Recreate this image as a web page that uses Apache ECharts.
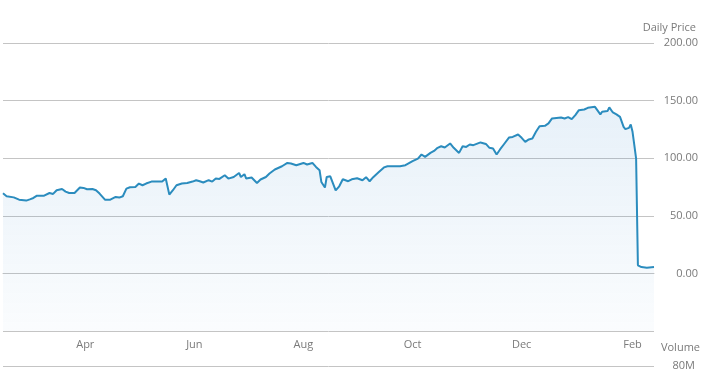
<!DOCTYPE html>
<html>
<head>
<meta charset="utf-8">
<script src="https://cdn.jsdelivr.net/npm/echarts@6/dist/echarts.min.js"></script>
<style>
html, body { margin: 0; padding: 0; background: #fff; }
#main { width: 722px; height: 377px; }
</style>
</head>
<body>
<div id="main"></div>
<script>
// trading dates
var dates = [
    '2013-02-14', '2013-02-16', '2013-02-20', '2013-02-23', '2013-02-24', '2013-02-27',
    '2013-03-01', '2013-03-03', '2013-03-05', '2013-03-09', '2013-03-10', '2013-03-12',
    '2013-03-14', '2013-03-16', '2013-03-19', '2013-03-21', '2013-03-23', '2013-03-24',
    '2013-03-26', '2013-03-29', '2013-03-31', '2013-04-02', '2013-04-05', '2013-04-06',
    '2013-04-07', '2013-04-09', '2013-04-12', '2013-04-15', '2013-04-18', '2013-04-20',
    '2013-04-22', '2013-04-24', '2013-04-26', '2013-04-29', '2013-05-01', '2013-05-03',
    '2013-05-05', '2013-05-08', '2013-05-11', '2013-05-14', '2013-05-16', '2013-05-18',
    '2013-05-20', '2013-05-22', '2013-05-25', '2013-05-28', '2013-05-31', '2013-06-02',
    '2013-06-04', '2013-06-06', '2013-06-09', '2013-06-11', '2013-06-13', '2013-06-15',
    '2013-06-18', '2013-06-20', '2013-06-23', '2013-06-26', '2013-06-27', '2013-06-29',
    '2013-06-30', '2013-07-03', '2013-07-04', '2013-07-06', '2013-07-08', '2013-07-11',
    '2013-07-13', '2013-07-16', '2013-07-20', '2013-07-23', '2013-07-25', '2013-07-28',
    '2013-08-01', '2013-08-03', '2013-08-06', '2013-08-08', '2013-08-10', '2013-08-11',
    '2013-08-13', '2013-08-14', '2013-08-16', '2013-08-19', '2013-08-21', '2013-08-23',
    '2013-08-26', '2013-08-28', '2013-08-31', '2013-09-03', '2013-09-05', '2013-09-07',
    '2013-09-09', '2013-09-12', '2013-09-15', '2013-09-17', '2013-09-18', '2013-09-24',
    '2013-09-27', '2013-10-01', '2013-10-04', '2013-10-06', '2013-10-08', '2013-10-11',
    '2013-10-13', '2013-10-15', '2013-10-17', '2013-10-19', '2013-10-22', '2013-10-24',
    '2013-10-27', '2013-10-28', '2013-10-29', '2013-10-31', '2013-11-02', '2013-11-04',
    '2013-11-08', '2013-11-11', '2013-11-13', '2013-11-15', '2013-11-17', '2013-11-19',
    '2013-11-21', '2013-11-24', '2013-11-26', '2013-11-29', '2013-12-01', '2013-12-03',
    '2013-12-05', '2013-12-07', '2013-12-09', '2013-12-11', '2013-12-14', '2013-12-16',
    '2013-12-18', '2013-12-19', '2013-12-23', '2013-12-25', '2013-12-27', '2013-12-29',
    '2013-12-31', '2014-01-02', '2014-01-05', '2014-01-07', '2014-01-08', '2014-01-11',
    '2014-01-12', '2014-01-14', '2014-01-15', '2014-01-18', '2014-01-19', '2014-01-21',
    '2014-01-23', '2014-01-25', '2014-01-27', '2014-01-28', '2014-01-30', '2014-01-31',
    '2014-02-01', '2014-02-02', '2014-02-03', '2014-02-04', '2014-02-06', '2014-02-09',
    '2014-02-13'
];

// daily closing price
var prices = [
    69.5, 67.0, 66.0, 64.0, 64.6, 63.2,
    64.3, 65.5, 67.5, 67.5, 68.4, 69.8,
    69.0, 72.2, 73.3, 71.0, 69.8, 68.1,
    69.8, 74.5, 74.2, 73.0, 73.3, 71.6,
    72.2, 69.3, 64.0, 64.0, 66.4, 65.8,
    67.0, 73.6, 74.8, 75.0, 78.0, 76.5,
    78.0, 79.7, 79.7, 79.7, 82.3, 68.4,
    72.2, 76.5, 78.0, 78.5, 79.7, 80.9,
    80.0, 78.9, 80.9, 79.7, 82.3, 82.0,
    85.2, 82.3, 83.7, 87.2, 83.7, 86.1,
    82.3, 83.2, 82.0, 78.5, 81.5, 83.7,
    86.7, 90.2, 93.0, 95.9, 95.4, 93.9,
    95.9, 94.5, 95.9, 92.4, 89.6, 79.4,
    74.5, 83.7, 84.3, 72.0, 75.6, 81.7,
    80.0, 81.7, 82.6, 80.9, 83.5, 80.0,
    83.5, 87.8, 92.0, 93.0, 93.9, 93.0,
    93.9, 97.4, 99.7, 103.2, 101.2, 104.6,
    106.3, 109.0, 110.4, 109.3, 112.8, 109.0,
    104.6, 105.0, 110.4, 109.8, 111.9, 111.3,
    113.7, 112.4, 109.0, 108.4, 103.2, 107.8,
    111.9, 118.0, 118.5, 120.6, 117.7, 114.2,
    116.3, 117.1, 122.9, 127.8, 128.1, 130.2,
    134.5, 135.0, 135.4, 134.5, 135.7, 133.9,
    137.4, 141.7, 142.3, 143.7, 142.6, 144.6,
    143.2, 138.0, 140.3, 140.9, 144.1, 139.7,
    138.0, 135.9, 127.2, 125.2, 126.3, 129.3,
    122.9, 111.3, 99.7, 7.0, 5.5, 5.0,
    5.5
];

// month labels shown on the x axis
var monthTicks = ['2013-04-01', '2013-06-01', '2013-08-01', '2013-10-01', '2013-12-01', '2014-02-01'];
var monthNames = ['Jan', 'Feb', 'Mar', 'Apr', 'May', 'Jun', 'Jul', 'Aug', 'Sep', 'Oct', 'Nov', 'Dec'];

var startDate = '2013-02-14';
var endDate = '2014-02-13';

function toTime(s) {
    var p = s.split('-');
    return new Date(+p[0], +p[1] - 1, +p[2]).getTime();
}

var seriesData = [];
for (var i = 0; i < dates.length; i++) {
    seriesData.push([toTime(dates[i]), prices[i]]);
}

var gridColor = '#c4c4c4';
var textColor = '#7a7a7a';
var font = '"Open Sans", "DejaVu Sans", sans-serif';

var myChart = echarts.init(document.getElementById('main'));
var option = {
    animation: false,
    textStyle: { fontFamily: font },
    title: [
        { text: 'Daily Price', right: 21, top: 17, textStyle: { fontSize: 11, fontWeight: 'normal', color: textColor, fontFamily: font } },
        { text: 'Volume', right: 17, top: 337, textStyle: { fontSize: 11, fontWeight: 'normal', color: textColor, fontFamily: font } }
    ],
    grid: [
        { left: 3, right: 68, top: 43, height: 288, outerBoundsMode: 'none' },
        { left: 3, right: 68, top: 366, height: 60, outerBoundsMode: 'none' }
    ],
    xAxis: [
        {
            // timestamps on a plain value axis so the month ticks can be placed exactly
            type: 'value',
            gridIndex: 0,
            min: toTime(startDate),
            max: toTime(endDate),
            axisLine: { show: true, lineStyle: { color: gridColor } },
            axisTick: { show: false },
            splitLine: { show: false },
            axisLabel: {
                color: textColor,
                fontSize: 11,
                margin: 8,
                customValues: monthTicks.map(toTime),
                formatter: function (v) {
                    return monthNames[new Date(v).getMonth()];
                }
            }
        },
        {
            type: 'value',
            gridIndex: 1,
            position: 'top',
            offset: 9,
            min: toTime(startDate),
            max: toTime(endDate),
            axisLine: { show: true, lineStyle: { color: gridColor } },
            axisTick: { show: false },
            axisLabel: { show: false },
            splitLine: { show: false }
        }
    ],
    yAxis: [
        {
            type: 'value',
            gridIndex: 0,
            position: 'right',
            min: -50,
            max: 200,
            interval: 50,
            axisLine: { show: false },
            axisTick: { show: false },
            splitLine: { lineStyle: { color: gridColor } },
            axisLabel: {
                color: textColor,
                fontSize: 11,
                align: 'right',
                margin: 44,
                formatter: function (v) {
                    return v < 0 ? '' : v.toFixed(2);
                }
            }
        },
        {
            type: 'value',
            gridIndex: 1,
            position: 'right',
            min: 0,
            max: 80000000,
            interval: 80000000,
            axisLine: { show: false },
            axisTick: { show: false },
            splitLine: { lineStyle: { color: gridColor } },
            axisLabel: {
                color: textColor,
                fontSize: 11,
                align: 'right',
                margin: 41,
                formatter: function (v) {
                    return (v / 1000000) + 'M';
                }
            }
        }
    ],
    series: [
        {
            name: 'Daily Price',
            type: 'line',
            xAxisIndex: 0,
            yAxisIndex: 0,
            data: seriesData,
            symbol: 'none',
            lineStyle: { color: '#2b8cbe', width: 2 },
            itemStyle: { color: '#2b8cbe' },
            areaStyle: {
                origin: 'start',
                color: new echarts.graphic.LinearGradient(0, 0, 0, 1, [
                    { offset: 0, color: 'rgba(43, 128, 200, 0.16)' },
                    { offset: 1, color: 'rgba(43, 128, 200, 0.03)' }
                ])
            }
        }
    ]
};
myChart.setOption(option);
</script>
</body>
</html>
